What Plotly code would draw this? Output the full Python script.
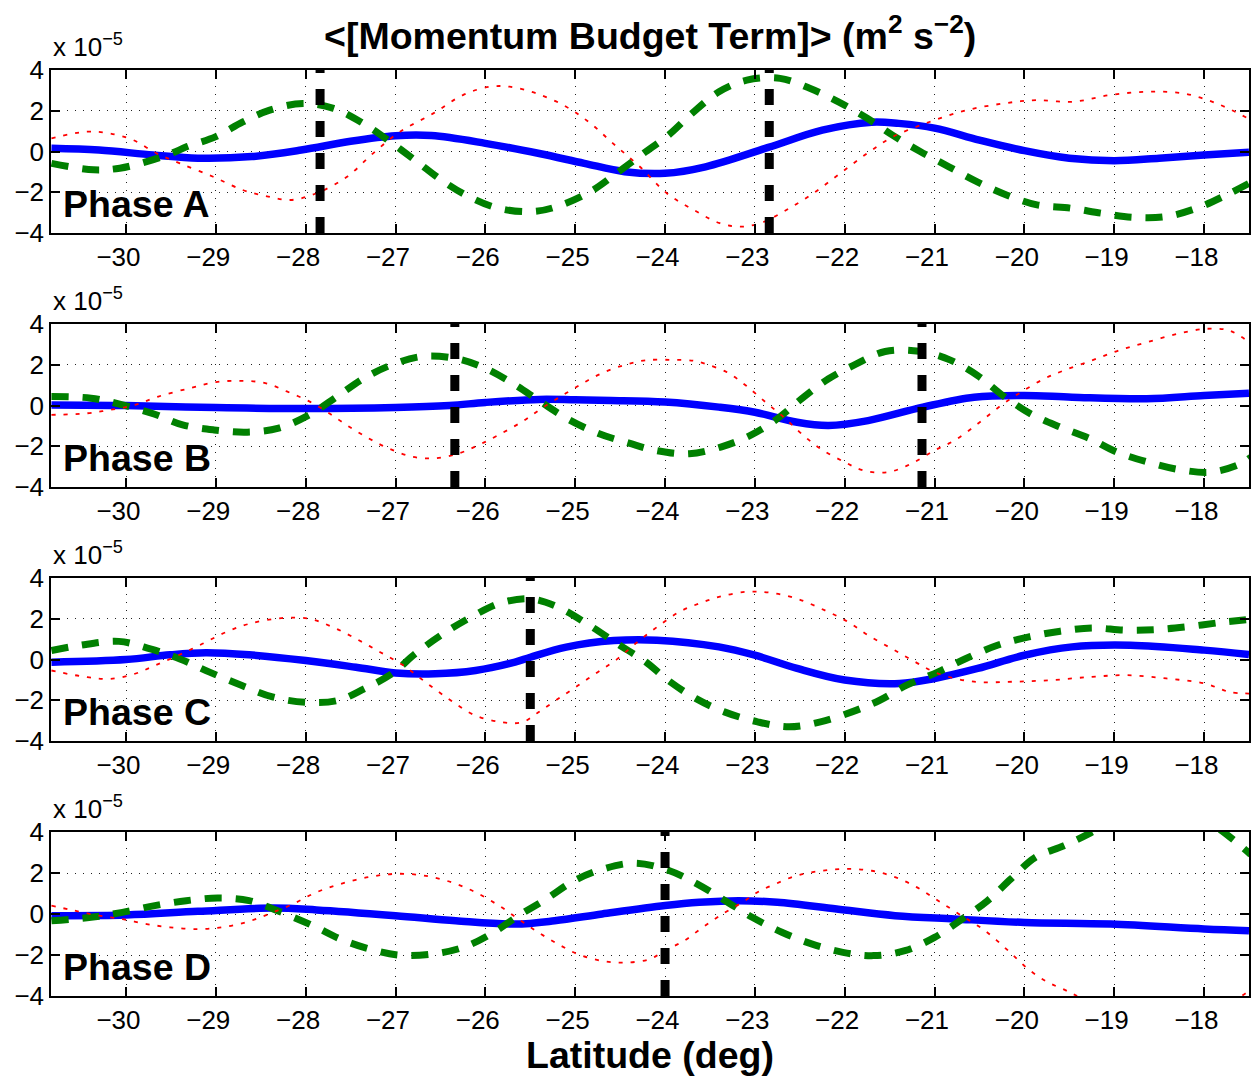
import plotly.graph_objects as go
from plotly.subplots import make_subplots

# ---------------- data (values in units of 1e-5 m^2 s^-2) ----------------
phase_names = ["Phase A", "Phase B", "Phase C", "Phase D"]

# Phase A
lat_blue_a = [-30.83, -30.3, -29.7, -29.2, -28.6, -28.05, -27.5, -27.0, -26.6, -26.0, -25.4, -24.9, -24.45, -24.0,
              -23.55, -22.85, -22.25, -21.7, -21.4, -21.0, -20.5, -20.0, -19.5, -19.0, -18.5, -18.0, -17.5]
blue_a = [0.16, 0.07, -0.17, -0.33, -0.25, 0.07, 0.5, 0.77, 0.78, 0.4, -0.1, -0.58, -0.99, -1.07,
          -0.75, 0.2, 1.05, 1.44, 1.38, 1.15, 0.56, 0.04, -0.33, -0.45, -0.33, -0.17, -0.04]
lat_green_a = [-30.83, -30.36, -30.07, -29.77, -29.5, -29.32, -29.0, -28.7, -28.4, -28.03, -27.69, -27.36, -27.06,
               -26.76, -26.49, -26.19, -25.86, -25.48, -25.2, -24.83, -24.54, -24.24, -23.96, -23.7, -23.4, -23.09,
               -22.72, -22.39, -22.07, -21.75, -21.46, -21.16, -20.84, -20.53, -20.2, -19.86, -19.49, -19.14,
               -18.79, -18.43, -18.08, -17.75, -17.5]
green_a = [-0.58, -0.9, -0.82, -0.5, -0.1, 0.24, 0.73, 1.45, 2.03, 2.36, 2.12, 1.38, 0.48,
           -0.5, -1.4, -2.2, -2.78, -2.95, -2.7, -1.97, -1.07, -0.09, 0.81, 1.87, 2.93, 3.5,
           3.59, 3.1, 2.44, 1.63, 0.78, 0.0, -0.75, -1.48, -2.13, -2.62, -2.78, -3.03,
           -3.23, -3.2, -2.78, -2.13, -1.56]
lat_red_a = [-30.83, -30.44, -30.18, -29.92, -29.66, -29.4, -29.03, -28.7, -28.43, -28.17, -27.88, -27.54, -27.25,
             -26.95, -26.58, -26.25, -25.95, -25.73, -25.43, -25.1, -24.83, -24.58, -24.28, -23.98, -23.68, -23.39,
             -23.17, -22.94, -22.65, -22.35, -22.05, -21.75, -21.46, -21.05, -20.64, -20.23, -19.87, -19.46,
             -19.05, -18.64, -18.23, -17.86, -17.5]
red_a = [0.65, 0.97, 0.89, 0.56, -0.09, -0.58, -1.24, -1.89, -2.2, -2.38, -2.05, -1.24, -0.09,
         0.97, 1.87, 2.77, 3.18, 3.18, 2.85, 2.2, 1.38, 0.4, -0.75, -2.05, -2.87, -3.52,
         -3.69, -3.52, -2.87, -2.05, -1.07, -0.09, 0.73, 1.46, 2.03, 2.36, 2.52, 2.44,
         2.77, 2.93, 2.85, 2.36, 1.6]

# Phase B
lat_blue_b = [-30.83, -30.0, -29.0, -28.0, -27.0, -26.4, -26.0, -25.4, -25.0, -24.6, -24.0, -23.4, -23.0, -22.53,
              -22.18, -21.74, -21.13, -20.56, -20.0, -19.47, -18.64, -18.0, -17.5]
blue_b = [0.03, 0.0, -0.1, -0.15, -0.1, 0.0, 0.15, 0.3, 0.28, 0.25, 0.17, -0.08, -0.33, -0.82,
          -0.98, -0.74, -0.08, 0.41, 0.49, 0.41, 0.33, 0.49, 0.6]
lat_green_b = [-30.83, -30.39, -30.04, -29.68, -29.37, -29.02, -28.65, -28.3, -27.96, -27.65, -27.35, -27.04,
               -26.7, -26.36, -26.05, -25.7, -25.39, -25.1, -24.75, -24.4, -24.09, -23.73, -23.38, -23.05,
               -22.75, -22.48, -22.18, -21.87, -21.55, -21.17, -20.83, -20.52, -20.24, -19.93, -19.6, -19.27,
               -18.97, -18.62, -18.27, -17.92, -17.59, -17.48]
green_b = [0.44, 0.36, 0.03, -0.43, -0.95, -1.2, -1.31, -1.11, -0.46, 0.44, 1.34, 2.0,
           2.41, 2.33, 1.92, 1.1, 0.2, -0.62, -1.36, -1.85, -2.22, -2.37, -2.04, -1.47,
           -0.65, 0.33, 1.31, 2.04, 2.65, 2.66, 2.24, 1.47, 0.49, -0.41, -1.06, -1.63,
           -2.29, -2.78, -3.15, -3.27, -2.86, -2.53]
lat_red_b = [-30.83, -30.43, -30.17, -29.9, -29.64, -29.29, -29.0, -28.71, -28.45, -28.21, -27.96, -27.74, -27.52,
             -27.3, -27.08, -26.82, -26.56, -26.29, -26.07, -25.85, -25.59, -25.37, -25.1, -24.88, -24.66, -24.44,
             -24.22, -23.93, -23.69, -23.55, -23.31, -23.1, -22.88, -22.68, -22.48, -22.27, -22.0, -21.79,
             -21.52, -21.26, -21.0, -20.78, -20.52, -20.26, -20.04, -19.78, -19.56, -19.25, -18.95, -18.64,
             -18.3, -17.99, -17.72, -17.5]
red_b = [-0.46, -0.38, -0.21, 0.03, 0.44, 0.85, 1.15, 1.21, 1.1, 0.69, 0.2, -0.38, -1.03,
         -1.61, -2.1, -2.51, -2.59, -2.34, -1.93, -1.44, -0.79, -0.13, 0.61, 1.18, 1.67, 2.0,
         2.22, 2.24, 2.2, 2.04, 1.63, 0.98, 0.16, -0.57, -1.39, -2.12, -2.78, -3.19,
         -3.27, -2.86, -2.2, -1.72, -0.9, 0.0, 0.65, 1.31, 1.72, 2.21, 2.7, 3.1,
         3.51, 3.76, 3.68, 3.1]

# Phase C
lat_blue_c = [-30.83, -30.0, -29.51, -29.11, -28.63, -28.0, -27.44, -27.0, -26.56, -26.11, -25.67, -25.5, -25.1,
              -24.57, -24.09, -23.4, -23.0, -22.53, -22.0, -21.39, -21.0, -20.52, -20.0, -19.47, -18.82, -18.0, -17.5]
blue_c = [-0.13, 0.0, 0.23, 0.33, 0.23, -0.05, -0.38, -0.66, -0.7, -0.54, -0.13, 0.11, 0.61,
          0.93, 0.95, 0.62, 0.21, -0.44, -1.01, -1.18, -0.93, -0.44, 0.21, 0.62, 0.7, 0.46, 0.25]
lat_green_c = [-30.83, -30.52, -30.08, -29.73, -29.4, -29.07, -28.71, -28.36, -28.0, -27.65, -27.35, -27.04,
               -26.78, -26.47, -26.16, -25.83, -25.5, -25.19, -24.84, -24.53, -24.22, -23.97, -23.66, -23.34,
               -22.97, -22.62, -22.27, -21.92, -21.61, -21.31, -20.96, -20.65, -20.3, -19.95, -19.6, -19.25,
               -18.88, -18.53, -18.18, -17.81, -17.5]
green_c = [0.44, 0.69, 0.89, 0.52, 0.03, -0.62, -1.28, -1.85, -2.1, -2.02, -1.44, -0.7,
           0.28, 1.26, 2.08, 2.77, 2.98, 2.57, 1.67, 0.77, -0.1, -1.01, -1.91, -2.57,
           -3.06, -3.3, -3.06, -2.57, -2.0, -1.26, -0.61, 0.05, 0.7, 1.11, 1.39, 1.55,
           1.44, 1.47, 1.61, 1.82, 1.96]
lat_red_c = [-30.83, -30.43, -30.17, -29.9, -29.68, -29.42, -29.15, -28.89, -28.63, -28.27, -27.96, -27.7, -27.44,
             -27.17, -26.91, -26.64, -26.38, -26.11, -25.81, -25.59, -25.41, -25.19, -24.97, -24.75, -24.53,
             -24.31, -24.09, -23.84, -23.62, -23.4, -23.1, -22.83, -22.53, -22.22, -21.96, -21.74, -21.48,
             -21.22, -20.96, -20.56, -20.13, -19.69, -19.25, -18.86, -18.42, -17.99, -17.72, -17.5]
red_c = [-0.54, -0.87, -0.95, -0.7, -0.3, 0.2, 0.77, 1.34, 1.75, 2.03, 2.0, 1.59, 1.02,
         0.36, -0.3, -1.2, -2.02, -2.75, -3.08, -3.08, -2.59, -1.93, -1.28, -0.62, 0.03,
         0.85, 1.59, 2.34, 2.75, 3.07, 3.32, 3.28, 2.98, 2.41, 1.84, 1.19, 0.54,
         -0.11, -0.69, -1.09, -1.09, -1.01, -0.85, -0.77, -0.93, -1.18, -1.59, -1.67]

# Phase D
lat_blue_d = [-30.83, -30.0, -29.2, -28.36, -27.88, -27.0, -26.33, -25.67, -25.23, -24.7, -24.0, -23.62, -23.18,
              -22.75, -22.09, -21.44, -20.78, -20.0, -19.04, -18.0, -17.5]
blue_d = [-0.08, -0.05, 0.13, 0.29, 0.2, -0.08, -0.33, -0.49, -0.33, 0.0, 0.41, 0.57, 0.65,
          0.57, 0.24, -0.08, -0.24, -0.41, -0.49, -0.73, -0.82]
lat_green_d = [-30.83, -30.39, -30.04, -29.68, -29.33, -28.98, -28.63, -28.27, -27.92, -27.61, -27.28, -26.95,
               -26.6, -26.25, -25.94, -25.63, -25.32, -25.01, -24.68, -24.33, -23.95, -23.64, -23.33, -23.03,
               -22.7, -22.37, -22.02, -21.68, -21.33, -21.0, -20.69, -20.41, -20.15, -19.88, -19.56, -19.29,
               -19.0, -18.6, -18.2, -17.85, -17.64, -17.48]
green_d = [-0.33, -0.16, 0.08, 0.41, 0.65, 0.78, 0.65, 0.08, -0.57, -1.23, -1.72, -2.01,
           -1.96, -1.63, -0.98, -0.08, 0.74, 1.63, 2.21, 2.48, 2.11, 1.46, 0.65, -0.16,
           -0.89, -1.46, -1.87, -2.03, -1.79, -1.14, -0.24, 0.65, 1.71, 2.76, 3.33, 3.9,
           4.6, 5.2, 5.0, 4.2, 3.5, 2.9]
lat_red_d = [-30.83, -30.57, -30.3, -30.04, -29.77, -29.51, -29.2, -28.94, -28.67, -28.41, -28.14, -27.88, -27.61,
             -27.3, -27.0, -26.69, -26.38, -26.11, -25.85, -25.63, -25.41, -25.19, -24.97, -24.7, -24.44, -24.17,
             -24.01, -23.79, -23.58, -23.36, -23.14, -22.97, -22.77, -22.53, -22.25, -21.97, -21.7, -21.44,
             -21.2, -20.96, -20.7, -20.44, -20.18, -19.96, -19.74, -19.57, -19.46, -19.0, -18.5, -18.0,
             -17.6, -17.5]
red_d = [0.41, 0.16, -0.08, -0.25, -0.49, -0.65, -0.74, -0.65, -0.41, 0.0, 0.49, 1.06, 1.47,
         1.8, 1.96, 1.88, 1.55, 1.06, 0.41, -0.25, -0.9, -1.47, -1.96, -2.29, -2.37, -2.2,
         -1.8, -1.31, -0.65, 0.0, 0.57, 1.06, 1.47, 1.88, 2.11, 2.2, 2.11, 1.8,
         1.31, 0.65, -0.08, -0.81, -1.79, -2.68, -3.33, -3.66, -3.9, -4.8, -5.3, -5.0,
         -4.05, -3.75]

# latitude of the phase reference (vertical dashed markers)
phase_marks = [[-27.84, -22.84], [-26.34, -21.14], [-25.5], [-24.0]]

x_ticks = list(range(-30, -17))
y_ticks = [-4, -2, 0, 2, 4]
x_range = [-30.835, -17.5]
y_range = [-4, 4]

panels = [
    (lat_blue_a, blue_a, lat_green_a, green_a, lat_red_a, red_a),
    (lat_blue_b, blue_b, lat_green_b, green_b, lat_red_b, red_b),
    (lat_blue_c, blue_c, lat_green_c, green_c, lat_red_c, red_c),
    (lat_blue_d, blue_d, lat_green_d, green_d, lat_red_d, red_d),
]

# ---------------- figure ----------------
W, H = 1255, 1079
FONT = "Liberation Sans, Arial, Helvetica, sans-serif"
panel_px = [(70, 233), (324, 487), (578, 741), (832, 996)]  # top, bottom in pixels

fig = make_subplots(rows=4, cols=1)

for i, (lb, vb, lg, vg, lr, vr) in enumerate(panels):
    r = i + 1
    fig.add_trace(go.Scatter(x=lb, y=vb, mode="lines", line=dict(color="#0000ff", width=7.5, shape="spline"),
                             showlegend=False, hoverinfo="skip"), row=r, col=1)
    fig.add_trace(go.Scatter(x=lg, y=vg, mode="lines",
                             line=dict(color="#008000", width=7, dash="17px,14px", shape="spline"),
                             showlegend=False, hoverinfo="skip"), row=r, col=1)
    fig.add_trace(go.Scatter(x=lr, y=vr, mode="lines",
                             line=dict(color="#ff0000", width=1.8, dash="4px,8px", shape="spline"),
                             showlegend=False, hoverinfo="skip"), row=r, col=1)
    for lat in phase_marks[i]:
        fig.add_trace(go.Scatter(x=[lat, lat], y=y_range, mode="lines",
                                 line=dict(color="black", width=9, dash="16px,16px"),
                                 showlegend=False, hoverinfo="skip"), row=r, col=1)

    top, bot = panel_px[i]
    sfx = "" if r == 1 else str(r)
    fig.layout["yaxis" + sfx].domain = [1 - bot / H, 1 - top / H]

    # scale-factor label above each panel
    fig.add_annotation(text="x 10<sup>\u22125</sup>", xref="paper", yref="paper", x=0, y=1 - top / H,
                       xanchor="left", yanchor="bottom", yshift=6, showarrow=False,
                       font=dict(family=FONT, size=26, color="black"))
    # phase label
    fig.add_annotation(text="<b>" + phase_names[i] + "</b>", xref="x%s domain" % sfx, yref="y%s domain" % sfx,
                       x=0.008, y=0.178, xanchor="left", yanchor="middle", showarrow=False,
                       font=dict(family=FONT, size=37.5, color="black"))

axis_common = dict(showline=True, linecolor="black", linewidth=1.5, mirror="allticks",
                   ticks="inside", ticklen=9, tickwidth=1.5, tickcolor="black", automargin=False,
                   showgrid=True, gridcolor="#222222", gridwidth=1, griddash="1px,7px",
                   zeroline=False, tickfont=dict(family=FONT, size=26, color="black"))

# x labels: the digits sit centred on the tick, the minus sign hangs to the left
hang = "<span style='color:rgba(0,0,0,0)'>\u2212</span>"
fig.update_xaxes(range=x_range, tickvals=x_ticks, ticktext=["\u2212%d%s" % (abs(v), hang) for v in x_ticks],
                 **axis_common)
fig.update_yaxes(range=y_range, tickvals=y_ticks,
                 ticktext=[("\u2212%d" % abs(v)) if v < 0 else str(v) for v in y_ticks],
                 **axis_common)

fig.add_annotation(text="<b>&lt;[Momentum Budget Term]&gt; (m<sup>2</sup> s<sup>\u22122</sup>)</b>",
                   xref="paper", yref="paper", x=0.5, y=1 - 33 / H, xanchor="center", yanchor="middle",
                   showarrow=False, font=dict(family=FONT, size=37.5, color="black"))
fig.add_annotation(text="<b>Latitude (deg)</b>", xref="paper", yref="paper", x=0.5, y=1 - 1055 / H,
                   xanchor="center", yanchor="middle", showarrow=False,
                   font=dict(family=FONT, size=37.5, color="black"))

fig.update_layout(width=W, height=H, margin=dict(l=51, r=6, t=0, b=0, autoexpand=False),
                  plot_bgcolor="white", paper_bgcolor="white", showlegend=False)

fig.write_html("out.html")
